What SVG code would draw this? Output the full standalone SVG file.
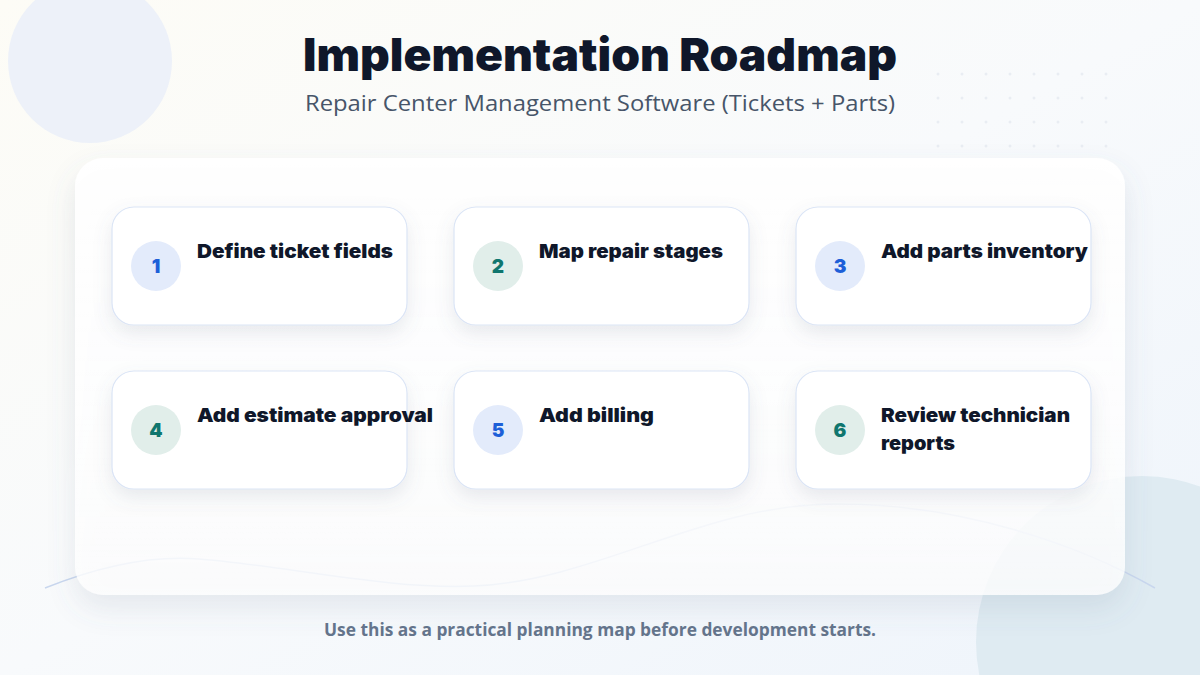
<svg xmlns="http://www.w3.org/2000/svg" width="1200" height="675" viewBox="0 0 1200 675">
<defs>
<linearGradient id="bg" x1="0" y1="0" x2="1" y2="1">
<stop offset="0" stop-color="#fdfcf6"/>
<stop offset="0.5" stop-color="#f8fafc"/>
<stop offset="1" stop-color="#eef4fb"/>
</linearGradient>
<linearGradient id="panelFill" x1="0" y1="0" x2="0" y2="1">
<stop offset="0" stop-color="#ffffff" stop-opacity="0.97"/>
<stop offset="0.6" stop-color="#ffffff" stop-opacity="0.9"/>
<stop offset="1" stop-color="#ffffff" stop-opacity="0.78"/>
</linearGradient>
<filter id="panelShadow" x="-10%" y="-10%" width="120%" height="130%">
<feDropShadow dx="0" dy="14" stdDeviation="14" flood-color="#64748b" flood-opacity="0.16"/>
</filter>
<filter id="cardShadow" x="-15%" y="-20%" width="130%" height="160%">
<feDropShadow dx="0" dy="8" stdDeviation="9" flood-color="#64748b" flood-opacity="0.14"/>
</filter>
<pattern id="dots" x="926" y="62" width="24" height="24" patternUnits="userSpaceOnUse">
<circle cx="12" cy="12" r="1.5" fill="#e9edf3"/>
</pattern>
</defs>
<style>
.title{font-family:Inter,"Noto Sans",sans-serif;font-weight:900;font-size:45px;fill:#0f172a}
.sub{font-family:"Open Sans","Noto Sans",sans-serif;font-weight:500;font-size:22px;fill:#475569}
.foot{font-family:"Open Sans","Noto Sans",sans-serif;font-weight:700;font-size:17px;fill:#64748b}
.card{fill:#ffffff;stroke:#dbe5f6;stroke-width:1.2}
.lbl{font-family:Inter,"Noto Sans",sans-serif;font-weight:900;font-size:19px;fill:#0f172a}
.num{font-family:Inter,"Noto Sans",sans-serif;font-weight:900;font-size:19px;text-anchor:middle}
.bb{fill:#e3ebfb}
.bt{fill:#e1eeea}
.nb{fill:#1d5fd8}
.nt{fill:#0f766e}
</style>
<rect width="1200" height="675" fill="url(#bg)"/>
<circle cx="90" cy="61" r="82" fill="#edf1f9"/>
<circle cx="1142" cy="642" r="166" fill="#dfebf2"/>
<rect x="926" y="62" width="192" height="96" fill="url(#dots)"/>
<path d="M45,588 C100,566 150,555 199,559 C280,565 390,590 474,586 C600,580 700,505 834,504 C960,503 1080,545 1155,588" fill="none" stroke="#c9d7ee" stroke-width="1.5"/>
<g id="header">
<text class="title" x="600" y="71" text-anchor="middle" textLength="594" lengthAdjust="spacingAndGlyphs">Implementation Roadmap</text>
<text class="sub" x="600" y="111" text-anchor="middle" textLength="590" lengthAdjust="spacingAndGlyphs">Repair Center Management Software (Tickets + Parts)</text>
</g>
<rect id="panel" x="75" y="158" width="1050" height="437" rx="28" fill="url(#panelFill)" filter="url(#panelShadow)"/>
<g id="connectors"></g>
<g id="node1">
<rect class="card" x="112" y="207" width="295" height="118" rx="22" filter="url(#cardShadow)"/>
<circle class="bb" cx="156" cy="266" r="25"/>
<text class="num nb" x="156" y="273">1</text>
<text class="lbl" x="197" y="258" textLength="196" lengthAdjust="spacingAndGlyphs">Define ticket fields</text>
</g>
<g id="node2">
<rect class="card" x="454" y="207" width="295" height="118" rx="22" filter="url(#cardShadow)"/>
<circle class="bt" cx="498" cy="266" r="25"/>
<text class="num nt" x="498" y="273">2</text>
<text class="lbl" x="539" y="258" textLength="184" lengthAdjust="spacingAndGlyphs">Map repair stages</text>
</g>
<g id="node3">
<rect class="card" x="796" y="207" width="295" height="118" rx="22" filter="url(#cardShadow)"/>
<circle class="bb" cx="840" cy="266" r="25"/>
<text class="num nb" x="840" y="273">3</text>
<text class="lbl" x="881" y="258" textLength="207" lengthAdjust="spacingAndGlyphs">Add parts inventory</text>
</g>
<g id="node4">
<rect class="card" x="112" y="371" width="295" height="118" rx="22" filter="url(#cardShadow)"/>
<circle class="bt" cx="156" cy="430" r="25"/>
<text class="num nt" x="156" y="437">4</text>
<text class="lbl" x="197" y="422" textLength="236" lengthAdjust="spacingAndGlyphs">Add estimate approval</text>
</g>
<g id="node5">
<rect class="card" x="454" y="371" width="295" height="118" rx="22" filter="url(#cardShadow)"/>
<circle class="bb" cx="498" cy="430" r="25"/>
<text class="num nb" x="498" y="437">5</text>
<text class="lbl" x="539" y="422" textLength="115" lengthAdjust="spacingAndGlyphs">Add billing</text>
</g>
<g id="node6">
<rect class="card" x="796" y="371" width="295" height="118" rx="22" filter="url(#cardShadow)"/>
<circle class="bt" cx="840" cy="430" r="25"/>
<text class="num nt" x="840" y="437">6</text>
<text class="lbl" x="881" y="422" textLength="189" lengthAdjust="spacingAndGlyphs">Review technician</text>
<text class="lbl" x="881" y="450" textLength="74" lengthAdjust="spacingAndGlyphs">reports</text>
</g>
<text class="foot" x="600" y="636" text-anchor="middle" textLength="552" lengthAdjust="spacingAndGlyphs">Use this as a practical planning map before development starts.</text>
</svg>
